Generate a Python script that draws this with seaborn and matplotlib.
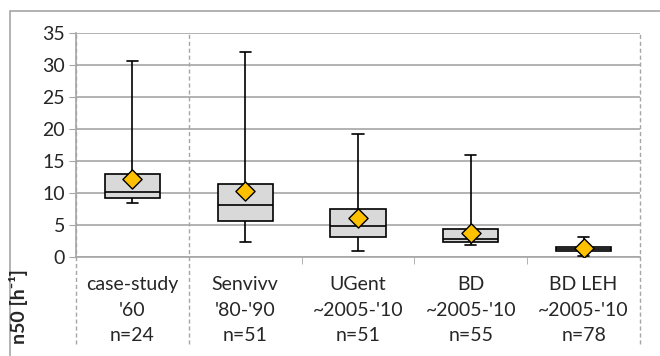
import numpy as np
import pandas as pd
import matplotlib
matplotlib.use("Agg")
import matplotlib.pyplot as plt
import matplotlib.patches as patches
import seaborn as sns

# ============================
# DATA
# ============================
groups = ["case-study\n'60\nn=24", "Senvivv\n'80-'90\nn=51", "UGent\n~2005-'10\nn=51",
          "BD\n~2005-'10\nn=55", "BD LEH\n~2005-'10\nn=78"]
whisker_low = [8.5, 2.4, 1.0, 1.9, 0.2]
q1 = [9.2, 5.55, 3.1, 2.35, 1.0]
median = [10.2, 8.2, 4.8, 2.8, 1.3]
q3 = [12.9, 11.45, 7.5, 4.4, 1.6]
whisker_high = [30.6, 32.1, 19.2, 15.9, 3.1]
mean = [12.2, 10.35, 6.1, 3.7, 1.35]

# five points per group -> quartiles land exactly on the values above
rows = []
for g, a, b, c, d, e in zip(groups, whisker_low, q1, median, q3, whisker_high):
    for v in (a, b, c, d, e):
        rows.append({"group": g, "n50": v})
df = pd.DataFrame(rows)
df_mean = pd.DataFrame({"group": groups, "n50": mean})

# ============================
# PLOT
# ============================
sns.set_style("white")
plt.rcParams["font.family"] = ["Lato", "DejaVu Sans"]

fig = plt.figure(figsize=(6.6, 3.56), dpi=100)
ax = fig.add_axes([76 / 660, 1 - 257 / 356, 564 / 660, 224 / 356])

sns.boxplot(data=df, x="group", y="n50", ax=ax, whis=(0, 100), width=0.49,
            color="#d9d9d9", linecolor="black", linewidth=1.2, fliersize=0,
            capwidths=0.1, zorder=3)
sns.scatterplot(data=df_mean, x="group", y="n50", ax=ax, marker="D", s=95,
                color="#ffc000", edgecolor="black", linewidth=1.0, zorder=5)

ax.set_ylim(0, 35)
ax.set_xlim(-0.5, 4.5)
ax.set_yticks(range(0, 36, 5))
ax.yaxis.grid(True, color="#a6a6a6", linewidth=1.2, zorder=0)
ax.set_axisbelow(True)
for s in ["top", "right"]:
    ax.spines[s].set_visible(False)
ax.spines["left"].set_color("#a6a6a6")
ax.spines["bottom"].set_color("#a6a6a6")
ax.spines["left"].set_linewidth(1.2)
ax.spines["bottom"].set_linewidth(1.2)

ax.tick_params(axis="y", length=5, color="#a6a6a6", labelsize=14, pad=3, left=True)
ax.set_xticks(range(len(groups)))
ax.set_xticklabels(groups, fontsize=14, linespacing=1.6)
ax.tick_params(axis="x", length=0, pad=14)
ax.set_xticks([1.5, 2.5, 3.5], minor=True)
ax.tick_params(axis="x", which="minor", length=5, color="#a6a6a6", bottom=True)
ax.set_xlabel("")
ax.set_ylabel("")

# dashed separators running down through the labels
tr = ax.get_xaxis_transform()
for xv in [-0.5, 0.5, 4.5]:
    ax.plot([xv, xv], [-0.39, 1.0], transform=tr, color="#a6a6a6",
            linestyle=(0, (3, 2)), linewidth=1.0, clip_on=False, zorder=1)

fig.text(19 / 660, 1 - 307 / 356, "n50 [h⁻¹]", rotation=90, fontsize=14,
         fontweight="bold", ha="center", va="center", family=["Lato", "DejaVu Sans"])

# outer chart frame
fig.patches.append(patches.Rectangle((10 / 660, -0.05), 1.0, 1 - 11 / 356 + 0.05,
                                     transform=fig.transFigure, fill=False,
                                     edgecolor="#a6a6a6", linewidth=1.2))

fig.savefig("out.png", dpi=100)
